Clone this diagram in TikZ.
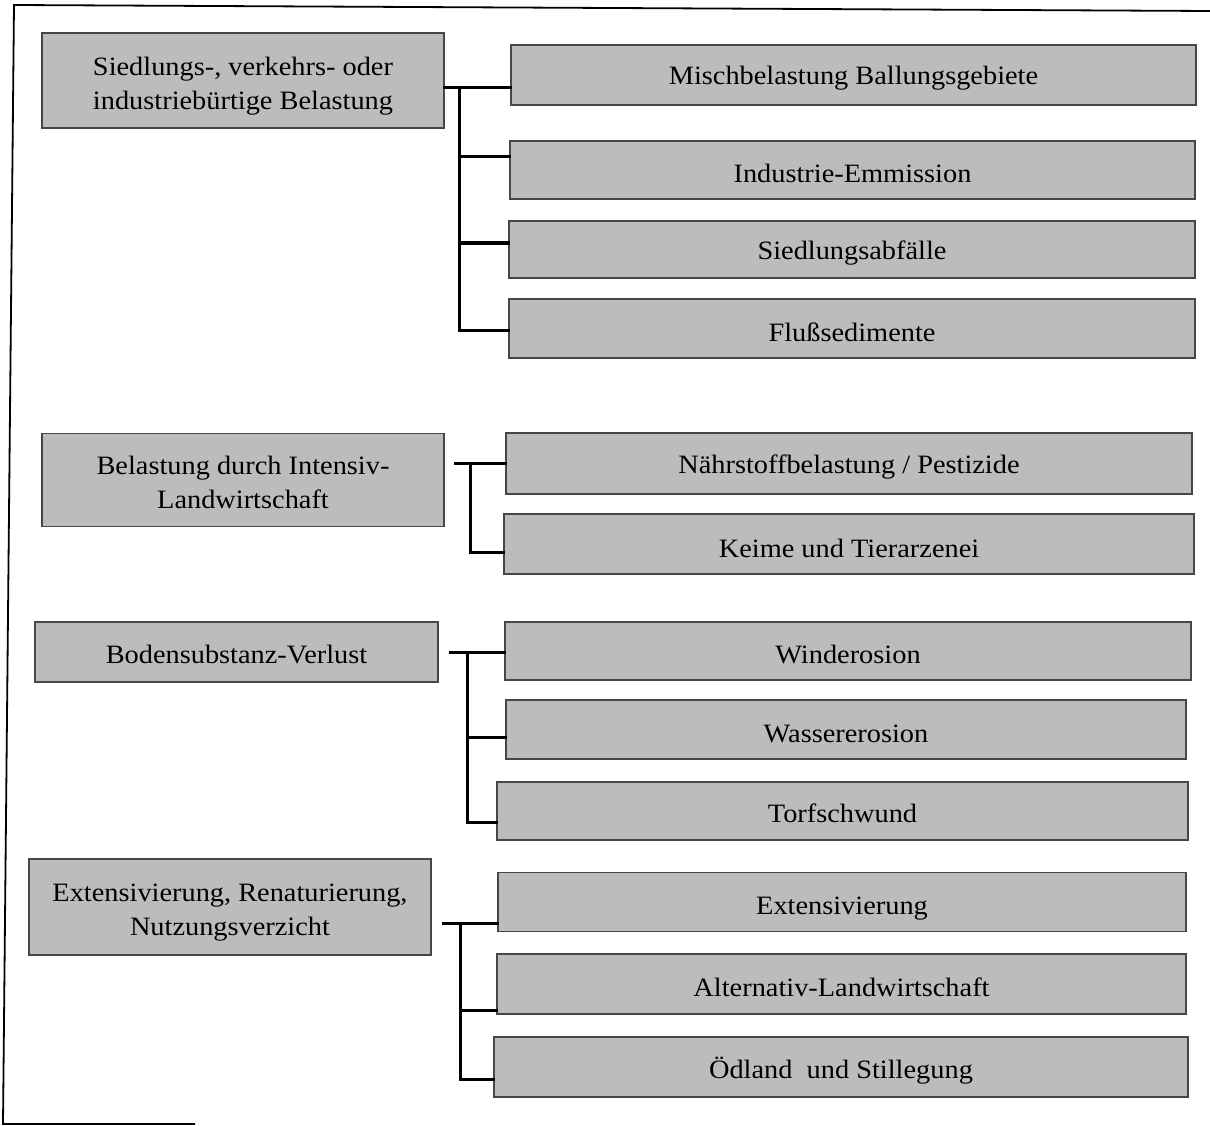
\documentclass[tikz,border=0pt]{standalone}
\usepackage{fontspec}
\setmainfont[FakeStretch=1.07]{Liberation Serif}
\definecolor{boxgray}{RGB}{188,188,188}
\definecolor{boxedge}{RGB}{70,70,70}
\begin{document}
\begin{tikzpicture}[x=1pt,y=-1pt,
  box/.style={draw=boxedge, line width=1.2pt, fill=boxgray, inner sep=0pt},
  tx/.style={align=center, inner sep=0pt, yshift=-4pt,
    font=\fontsize{26.5}{34}\selectfont},
  conn/.style={line width=3pt, line cap=rect},
  frame/.style={line width=1.8pt}]
% page area
\useasboundingbox (0,0) rectangle (1210,1126);

% outer frame
\coordinate (ftl) at (14,5);
\coordinate (ftr) at (1210,11);
\coordinate (fbl) at (3,1124);
\coordinate (fbr) at (195,1124);
\draw[frame] (ftr) -- (ftl) -- (fbl) -- (fbr);

% ---- group 1 ----
\node[box, minimum width=402, minimum height=95,
  label={[tx, yshift=-2pt]center:{Siedlungs-, verkehrs- oder\\industriebürtige Belastung}}] (L1) at (243,80.5) {};
\node[box, minimum width=685, minimum height=60, label={[tx, yshift=1pt]center:Mischbelastung Ballungsgebiete}] (R11) at (853.5,75) {};
\node[box, minimum width=685, minimum height=58, label={[tx, yshift=1pt]center:Industrie-Emmission}] (R12) at (852.5,170) {};
\node[box, minimum width=686, minimum height=57, label={[tx]center:Siedlungsabfälle}] (R13) at (852,249.5) {};
\node[box, minimum width=686, minimum height=59, label={[tx]center:Flußsedimente}] (R14) at (852,328.5) {};
\coordinate (t1) at (459,88);
\coordinate (b1) at (459,330);
\draw[conn] (L1.east |- t1) -- (R11.west |- t1);
\draw[conn] (t1) -- (b1) -- (R14.west |- b1);
\draw[conn] (t1 |- 0,157) -- (R12.west |- 0,157);
\draw[conn] (t1 |- 0,243) -- (R13.west |- 0,243);

% ---- group 2 ----
\node[box, minimum width=402, minimum height=93,
  label={[tx, yshift=2pt]center:{Belastung durch Intensiv-\\Landwirtschaft}}] (L2) at (243,480) {};
\node[box, minimum width=686, minimum height=61, label={[tx]center:Nährstoffbelastung / Pestizide}] (R21) at (849,463.5) {};
\node[box, minimum width=690, minimum height=60, label={[tx]center:Keime und Tierarzenei}] (R22) at (849,544) {};
\coordinate (h2) at (455,463);
\coordinate (t2) at (470,463);
\coordinate (b2) at (470,552);
\draw[conn] (h2) -- (R21.west |- h2);
\draw[conn] (t2) -- (b2) -- (R22.west |- b2);

% ---- group 3 ----
\node[box, minimum width=403, minimum height=60, label={[tx, yshift=1pt]center:Bodensubstanz-Verlust}] (L3) at (236.5,652) {};
\node[box, minimum width=686, minimum height=58, label={[tx]center:Winderosion}] (R31) at (848,651) {};
\node[box, minimum width=680, minimum height=59, label={[tx]center:Wassererosion}] (R32) at (846,729.5) {};
\node[box, minimum width=691, minimum height=58, label={[tx, yshift=2pt]center:Torfschwund}] (R33) at (842.5,811) {};
\coordinate (h3) at (450,652);
\coordinate (t3) at (467,652);
\coordinate (b3) at (467,822);
\draw[conn] (h3) -- (R31.west |- h3);
\draw[conn] (t3) -- (b3) -- (R33.west |- b3);
\draw[conn] (t3 |- 0,737) -- (R32.west |- 0,737);

% ---- group 4 ----
\node[box, minimum width=402, minimum height=96,
  label={[tx, yshift=-2pt]center:{Extensivierung, Renaturierung,\\Nutzungsverzicht}}] (L4) at (230,907) {};
\node[box, minimum width=688, minimum height=59, label={[tx, yshift=-3pt]center:Extensivierung}] (R41) at (842,902) {};
\node[box, minimum width=689, minimum height=60, label={[tx, yshift=1pt]center:Alternativ-Landwirtschaft}] (R42) at (841.5,984) {};
\node[box, minimum width=694, minimum height=60, label={[tx]center:Ödland\ \ und Stillegung}] (R43) at (841,1067) {};
\coordinate (h4) at (443,923);
\coordinate (t4) at (460,923);
\coordinate (b4) at (460,1079);
\draw[conn] (h4) -- (R41.west |- h4);
\draw[conn] (t4) -- (b4) -- (R43.west |- b4);
\draw[conn] (t4 |- 0,1010) -- (R42.west |- 0,1010);
\end{tikzpicture}
\end{document}
